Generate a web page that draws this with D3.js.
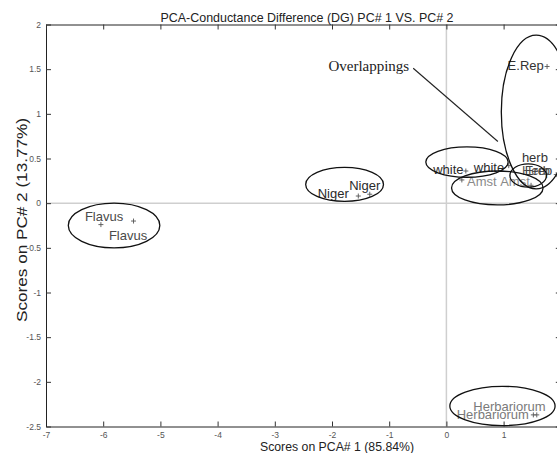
<!DOCTYPE html>
<html>
<head>
<meta charset="utf-8">
<script src="https://cdn.jsdelivr.net/npm/d3@7"></script>
<style>
  html, body { margin: 0; padding: 0; background: #fff; }
  svg { display: block; }
  text { font-family: "Liberation Sans", Arial, Helvetica, sans-serif; }
</style>
</head>
<body>
<svg id="chart" width="557" height="453"></svg>
<script>
// Axis ticks
const xTicks = [-7, -6, -5, -4, -3, -2, -1, 0, 1, 2];
const yTicks = [2, 1.5, 1, 0.5, 0, -0.5, -1, -1.5, -2, -2.5];

// Sample scores (PC1, PC2)
const sampleGroup = ["Flavus", "Flavus", "Niger", "Niger", "white", "white", "Amst", "Amst", "herb", "Erep", "E.Rep", "Herbariorum", "Herbariorum"];
const samplePC1 = [-6.04, -5.47, -1.54, -1.34, 0.34, 1.09, 0.27, 1.48, 1.71, 1.92, 1.76, 1.52, 1.58];
const samplePC2 = [-0.24, -0.20, 0.08, 0.10, 0.36, 0.42, 0.26, 0.20, 0.38, 0.32, 1.53, -2.37, -2.37];

// Text labels (anchored at their left baseline, in score units)
const labelText = ["Flavus", "Flavus", "Niger", "Niger", "white", "white", "Amst", "Amst", "herb", "Herb", "Erep", "E.Rep", "Herbariorum", "Herbariorum"];
const labelPC1 = [-6.32, -5.90, -1.70, -2.25, -0.23, 0.48, 0.36, 0.94, 1.32, 1.32, 1.37, 1.07, 0.47, 0.18];
const labelPC2 = [-0.20, -0.41, 0.15, 0.06, 0.33, 0.35, 0.19, 0.19, 0.46, 0.31, 0.31, 1.49, -2.33, -2.42];

// Cluster ellipses: centre and semi-axes in score units
const clusterName = ["Flavus", "Niger", "white", "Amst", "Erep", "E.Rep", "Herbariorum"];
const clusterCx = [-5.81, -1.78, 0.36, 0.89, 1.43, 1.57, 0.98];
const clusterCy = [-0.25, 0.21, 0.46, 0.17, 0.31, 1.02, -2.27];
const clusterRx = [0.80, 0.68, 0.72, 0.80, 0.32, 0.61, 0.92];
const clusterRy = [0.25, 0.19, 0.17, 0.19, 0.13, 0.86, 0.22];

// Annotation arrow from the "Overlappings" note into the crowded region
const noteText = "Overlappings";
const notePC1 = [-0.58, 0.90];
const notePC2 = [1.51, 0.69];

const labelColor = {
  "Flavus": "#4a4a4a", "Niger": "#2a2a2a", "white": "#2a2a2a", "Amst": "#8a8a8a",
  "herb": "#333", "Herb": "#555", "Erep": "#444", "E.Rep": "#333", "Herbariorum": "#7a7a7a"
};

const svg = d3.select("#chart");
const x = d3.scaleLinear().domain([-7, 2]).range([46, 560.8]);
const y = d3.scaleLinear().domain([-2.5, 2]).range([426.5, 24.5]);

// Zero reference lines
svg.append("line")
  .attr("x1", x(0)).attr("x2", x(0)).attr("y1", y(2)).attr("y2", y(-2.5))
  .attr("stroke", "#cfcfcf").attr("stroke-width", 1.5);
svg.append("line")
  .attr("x1", x(-7)).attr("x2", x(2)).attr("y1", y(0)).attr("y2", y(0))
  .attr("stroke", "#cfcfcf").attr("stroke-width", 1.5);

// Axes, ticks pointing inward on all four sides
function styleAxis(g) {
  g.selectAll("path.domain").attr("stroke", "#222");
  g.selectAll(".tick line").attr("stroke", "#333");
  g.selectAll(".tick text")
    .attr("fill", "#555")
    .style("font-size", "8.5px")
    .style("font-family", "'Liberation Sans Narrow', 'Liberation Sans', Arial, sans-serif");
}
// the last x tick sits on the right border, where its label falls outside the frame
const xLabel = d => (d === xTicks[xTicks.length - 1] ? "" : String(d));
svg.append("g").attr("transform", `translate(0,${y(-2.5)})`)
  .call(d3.axisBottom(x).tickValues(xTicks).tickFormat(xLabel).tickSize(-5).tickSizeOuter(0).tickPadding(5))
  .call(styleAxis);
svg.append("g").attr("transform", `translate(${x(-7)},0)`)
  .call(d3.axisLeft(y).tickValues(yTicks).tickFormat(d => String(d)).tickSize(-5).tickSizeOuter(0).tickPadding(5))
  .call(styleAxis);
svg.append("g").attr("transform", `translate(0,${y(2)})`)
  .call(d3.axisTop(x).tickValues(xTicks).tickFormat("").tickSize(-5).tickSizeOuter(0))
  .call(styleAxis);
svg.append("g").attr("transform", `translate(${x(2)},0)`)
  .call(d3.axisRight(y).tickValues(yTicks).tickFormat("").tickSize(-5).tickSizeOuter(0))
  .call(styleAxis);

// Sample markers (+)
const samples = sampleGroup.map((g, i) => ({ g, px: samplePC1[i], py: samplePC2[i] }));
svg.append("g").selectAll("path")
  .data(samples).join("path")
  .attr("transform", d => `translate(${x(d.px)},${y(d.py)})`)
  .attr("d", "M-2.5,0H2.5M0,-2.5V2.5")
  .attr("stroke", "#555").attr("stroke-width", 0.9).attr("fill", "none");

// Sample labels
const labels = labelText.map((t, i) => ({ t, px: labelPC1[i], py: labelPC2[i] }));
svg.append("g").selectAll("text")
  .data(labels).join("text")
  .attr("x", d => x(d.px)).attr("y", d => y(d.py))
  .attr("fill", d => labelColor[d.t])
  .style("font-size", "13px")
  .text(d => d.t);

// Cluster ellipses
const clusters = clusterName.map((n, i) => ({ n, cx: clusterCx[i], cy: clusterCy[i], rx: clusterRx[i], ry: clusterRy[i] }));
svg.append("g").selectAll("ellipse")
  .data(clusters).join("ellipse")
  .attr("cx", d => x(d.cx)).attr("cy", d => y(d.cy))
  .attr("rx", d => x(d.cx + d.rx) - x(d.cx))
  .attr("ry", d => y(d.cy - d.ry) - y(d.cy))
  .attr("fill", "none").attr("stroke", "#111").attr("stroke-width", 1.3);

// Overlap annotation
svg.append("line")
  .attr("x1", x(notePC1[0])).attr("y1", y(notePC2[0]))
  .attr("x2", x(notePC1[1])).attr("y2", y(notePC2[1]))
  .attr("stroke", "#222").attr("stroke-width", 1.1);
svg.append("text")
  .attr("x", x(notePC1[0]) - 4).attr("y", y(notePC2[0]) + 3)
  .attr("text-anchor", "end")
  .attr("fill", "#222")
  .style("font-family", "'Liberation Serif', 'Times New Roman', serif")
  .style("font-size", "15px")
  .text(noteText);

// Title and axis labels
svg.append("text")
  .attr("x", 307).attr("y", 22).attr("text-anchor", "middle")
  .attr("fill", "#222").style("font-size", "13px")
  .attr("textLength", 293).attr("lengthAdjust", "spacingAndGlyphs")
  .text("PCA-Conductance Difference (DG) PC# 1 VS. PC# 2");
svg.append("text")
  .attr("x", 337).attr("y", 451).attr("text-anchor", "middle")
  .attr("fill", "#222").style("font-size", "12px")
  .attr("textLength", 154).attr("lengthAdjust", "spacingAndGlyphs")
  .text("Scores on PCA# 1 (85.84%)");
svg.append("text")
  .attr("transform", "translate(27,220) rotate(-90)")
  .attr("text-anchor", "middle")
  .attr("fill", "#222").style("font-size", "15px")
  .attr("textLength", 204).attr("lengthAdjust", "spacingAndGlyphs")
  .text("Scores on PC# 2 (13.77%)");
</script>
</body>
</html>
